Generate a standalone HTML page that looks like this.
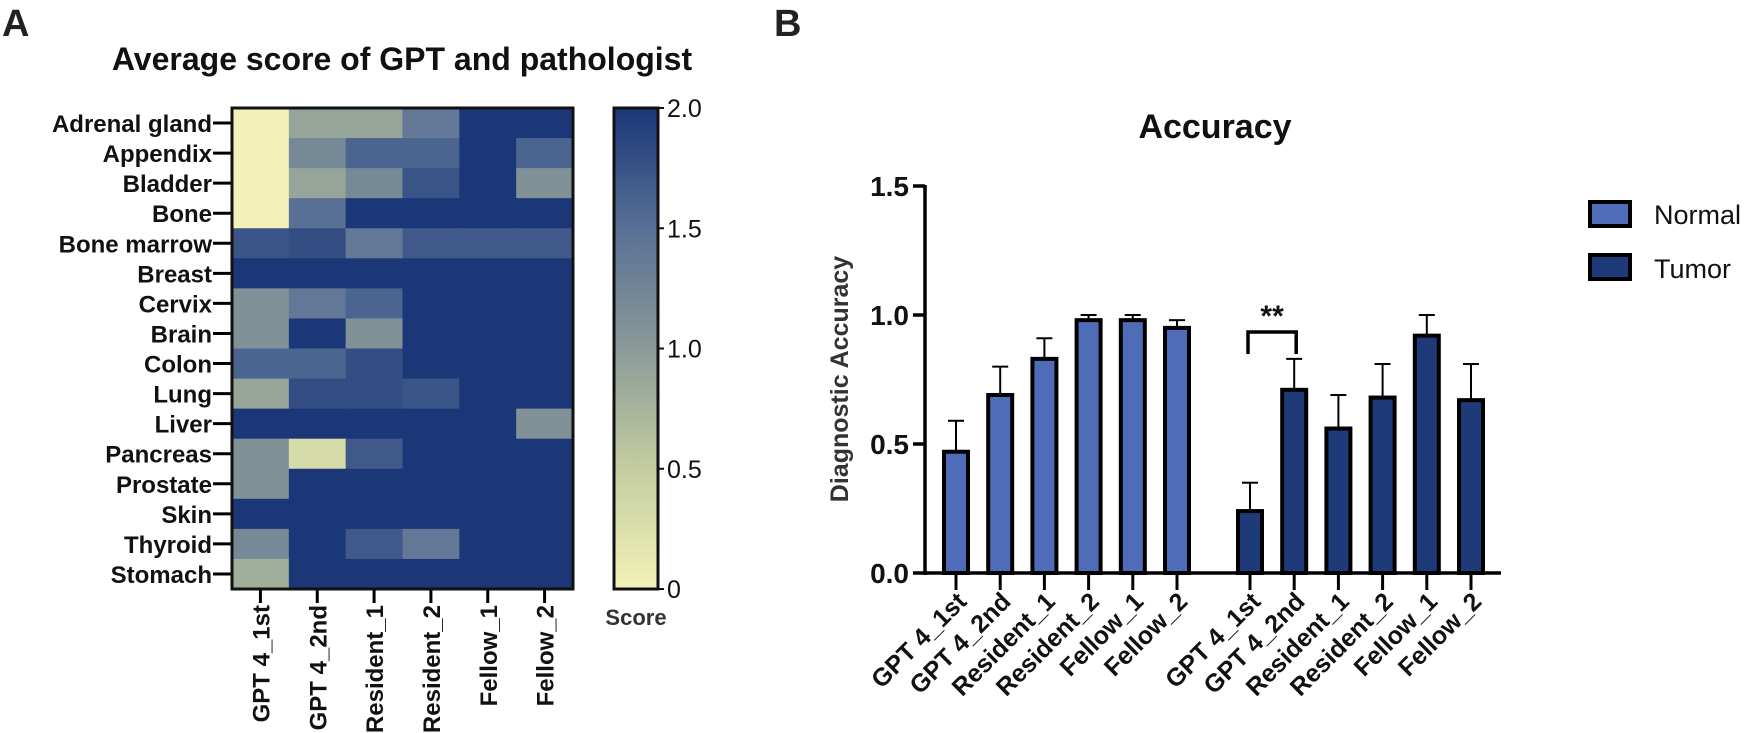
<!DOCTYPE html>
<html><head><meta charset="utf-8"><style>
body{margin:0;background:#fff;}
svg{display:block;font-family:"Liberation Sans",Arial,sans-serif;}
</style></head><body>
<svg id="fig" width="1755" height="733" viewBox="0 0 1755 733" xmlns="http://www.w3.org/2000/svg">
<text x="2" y="36" font-size="38" font-weight="bold" fill="#222">A</text>
<text x="402" y="70" font-size="32" font-weight="bold" text-anchor="middle" fill="#111">Average score of GPT and pathologist</text>
<g id="heat"></g>
<g id="cbar"></g>
<text x="774" y="36" font-size="38" font-weight="bold" fill="#222">B</text>
<text x="1215" y="138" font-size="34" font-weight="bold" text-anchor="middle" fill="#111">Accuracy</text>
<text transform="translate(848,379) rotate(-90)" font-size="25" font-weight="bold" text-anchor="middle" fill="#333">Diagnostic Accuracy</text>
<g id="bars"></g>
<g>
<rect x="1590" y="202" width="40" height="24" fill="#4f6cb8" stroke="#000" stroke-width="4"/>
<text x="1654" y="224" font-size="27" fill="#111">Normal</text>
<rect x="1590" y="255" width="40" height="24" fill="#1e3a78" stroke="#000" stroke-width="4"/>
<text x="1654" y="278" font-size="27" fill="#111">Tumor</text>
</g>
</svg>
<script>
const NS="http://www.w3.org/2000/svg";
// ---- heatmap data ----
const organs=["Adrenal gland","Appendix","Bladder","Bone","Bone marrow","Breast","Cervix","Brain","Colon","Lung","Liver","Pancreas","Prostate","Skin","Thyroid","Stomach"];
const raters=["GPT 4_1st","GPT 4_2nd","Resident_1","Resident_2","Fellow_1","Fellow_2"];
const scores=[
[0,0.9,0.9,1.4,2,2],
[0,1.2,1.6,1.6,2,1.6],
[0,0.9,1.2,1.75,2,1.1],
[0,1.5,2,2,2,2],
[1.75,1.8,1.4,1.7,1.7,1.7],
[2,2,2,2,2,2],
[1.1,1.4,1.6,2,2,2],
[1.1,2,1.1,2,2,2],
[1.6,1.6,1.8,2,2,2],
[0.9,1.8,1.8,1.75,2,2],
[2,2,2,2,2,1.1],
[1.1,0.3,1.7,2,2,2],
[1.1,2,2,2,2,2],
[2,2,2,2,2,2],
[1.2,2,1.7,1.4,2,2],
[0.8,2,2,2,2,2]];
const cbTicks=[0,0.5,1.0,1.5,2.0];
const cbTickLabels=["0","0.5","1.0","1.5","2.0"];
// ---- bar data ----
const barCats=["GPT 4_1st","GPT 4_2nd","Resident_1","Resident_2","Fellow_1","Fellow_2"];
const normalVals=[0.47,0.69,0.83,0.98,0.98,0.95];
const normalErr=[0.12,0.11,0.08,0.02,0.02,0.03];
const tumorVals=[0.24,0.71,0.56,0.68,0.92,0.67];
const tumorErr=[0.11,0.12,0.13,0.13,0.08,0.14];
const yTicks=[0,0.5,1.0,1.5];
const yTickLabels=["0.0","0.5","1.0","1.5"];

function mk(t,a,p){const e=document.createElementNS(NS,t);for(const k in a)e.setAttribute(k,a[k]);(p||document.getElementById('fig')).appendChild(e);return e;}
const stops=[[0,[242,242,184]],[0.5,[196,204,160]],[1,[138,154,152]],[1.5,[88,112,150]],[2,[28,55,120]]];
function cmap(v){for(let i=0;i<stops.length-1;i++){const[a,ca]=stops[i],[b,cb]=stops[i+1];if(v<=b){const t=(v-a)/(b-a);return `rgb(${ca.map((c,j)=>Math.round(c+(cb[j]-c)*t)).join(',')})`;}}return 'rgb(28,55,120)';}

// heatmap
const hg=document.getElementById('heat');
const HX0=232,HX1=573,HY0=108,HY1=589;
const cw=(HX1-HX0)/raters.length, rh=(HY1-HY0)/organs.length;
const hx=i=>HX0+i*cw, hy=i=>HY0+i*rh;
organs.forEach((o,r)=>{
  raters.forEach((c,ci)=>{
    const e=mk('rect',{x:hx(ci),y:hy(r),width:cw+0.5,height:rh+0.5,fill:cmap(scores[r][ci])},hg);
    
    
  });
  const yc=hy(r)+rh/2;
  mk('line',{x1:HX0-19,x2:HX0,y1:yc,y2:yc,stroke:'#000','stroke-width':3},hg);
  const t=mk('text',{x:HX0-20,y:yc+9,'font-size':24,'font-weight':'bold','text-anchor':'end',fill:'#111'},hg);
  t.textContent=o;
  
  
});
raters.forEach((c,ci)=>{
  const xc=hx(ci)+cw/2;
  mk('line',{x1:xc,x2:xc,y1:HY1,y2:HY1+14,stroke:'#000','stroke-width':3},hg);
  const t=mk('text',{transform:`translate(${xc+9},${HY1+16}) rotate(-90)`,'font-size':24,'font-weight':'bold','text-anchor':'end',fill:'#111'},hg);
  t.textContent=c;
  
  
});
mk('rect',{x:HX0,y:HY0,width:HX1-HX0,height:HY1-HY0,fill:'none',stroke:'#111','stroke-width':3},hg);

// colorbar
const cg=document.getElementById('cbar');
const CX0=614,CX1=658;
const cy=v=>HY1-(v/2)*(HY1-HY0);
const defs=mk('defs',{},cg);
const lg=mk('linearGradient',{id:'cg',x1:0,y1:1,x2:0,y2:0},defs);
for(let i=0;i<=20;i++){mk('stop',{offset:i/20,'stop-color':cmap(i/10)},lg);}
mk('rect',{x:CX0,y:HY0,width:CX1-CX0,height:HY1-HY0,fill:'url(#cg)',stroke:'#111','stroke-width':3},cg);
cbTicks.forEach((v,i)=>{
  mk('line',{x1:CX1,x2:CX1+6,y1:cy(v),y2:cy(v),stroke:'#111','stroke-width':2},cg);
  const t=mk('text',{x:CX1+9,y:cy(v)+9,'font-size':25,fill:'#111'},cg);
  t.textContent=cbTickLabels[i];
  
  
});
const sl=mk('text',{x:636,y:625,'font-size':22,'font-weight':'bold','text-anchor':'middle',fill:'#333'},cg);
sl.textContent='Score';



// bar chart
const bg=document.getElementById('bars');
const AX=925, Y0=573, PPU=258, XEND=1501;
const y=v=>Y0-v*PPU;
const groupStart=[956,1250], step=44.2, BW=24;
const bx=(g,i)=>groupStart[g]+i*step;
mk('line',{x1:AX,x2:AX,y1:y(1.5)-1,y2:Y0+2,stroke:'#000','stroke-width':3.5},bg);
mk('line',{x1:AX-1,x2:XEND,y1:Y0,y2:Y0,stroke:'#000','stroke-width':3.5},bg);
yTicks.forEach((v,i)=>{
  mk('line',{x1:AX-12,x2:AX,y1:y(v),y2:y(v),stroke:'#000','stroke-width':3.5},bg);
  const t=mk('text',{x:AX-16,y:y(v)+10,'font-size':28,'font-weight':'bold','text-anchor':'end',fill:'#111'},bg);
  t.textContent=yTickLabels[i];
  
  
});
[[normalVals,normalErr,'#4f6cb8','normal'],[tumorVals,tumorErr,'#1e3a78','tumor']].forEach(([vals,errs,col,nm],g)=>{
  vals.forEach((v,i)=>{
    const xc=bx(g,i);
    const top=v+errs[i];
    mk('line',{x1:xc,x2:xc,y1:y(top),y2:y(v),stroke:'#000','stroke-width':2},bg);
    mk('line',{x1:xc-8,x2:xc+8,y1:y(top),y2:y(top),stroke:'#000','stroke-width':2},bg);
    const r=mk('rect',{x:xc-BW/2,y:y(v),width:BW,height:Y0-y(v),fill:col,stroke:'#000','stroke-width':4},bg);
    
    
    mk('line',{x1:xc,x2:xc,y1:Y0,y2:Y0+17,stroke:'#000','stroke-width':3},bg);
    const t=mk('text',{transform:`translate(${xc+12},${Y0+30}) rotate(-45)`,'font-size':25,'font-weight':'bold','text-anchor':'end',fill:'#111'},bg);
    t.textContent=barCats[i];
    
    
  });
});
// significance bracket
const b1=bx(1,0), b2=bx(1,1), byTop=332;
mk('path',{d:`M${b1-2},354 L${b1-2},${byTop} L${b2+2},${byTop} L${b2+2},354`,fill:'none',stroke:'#000','stroke-width':3.5},bg);
const st=mk('text',{x:(b1+b2)/2,y:326,'font-size':30,'font-weight':'bold','text-anchor':'middle',fill:'#111'},bg);
st.textContent='**';


</script>
</body></html>
